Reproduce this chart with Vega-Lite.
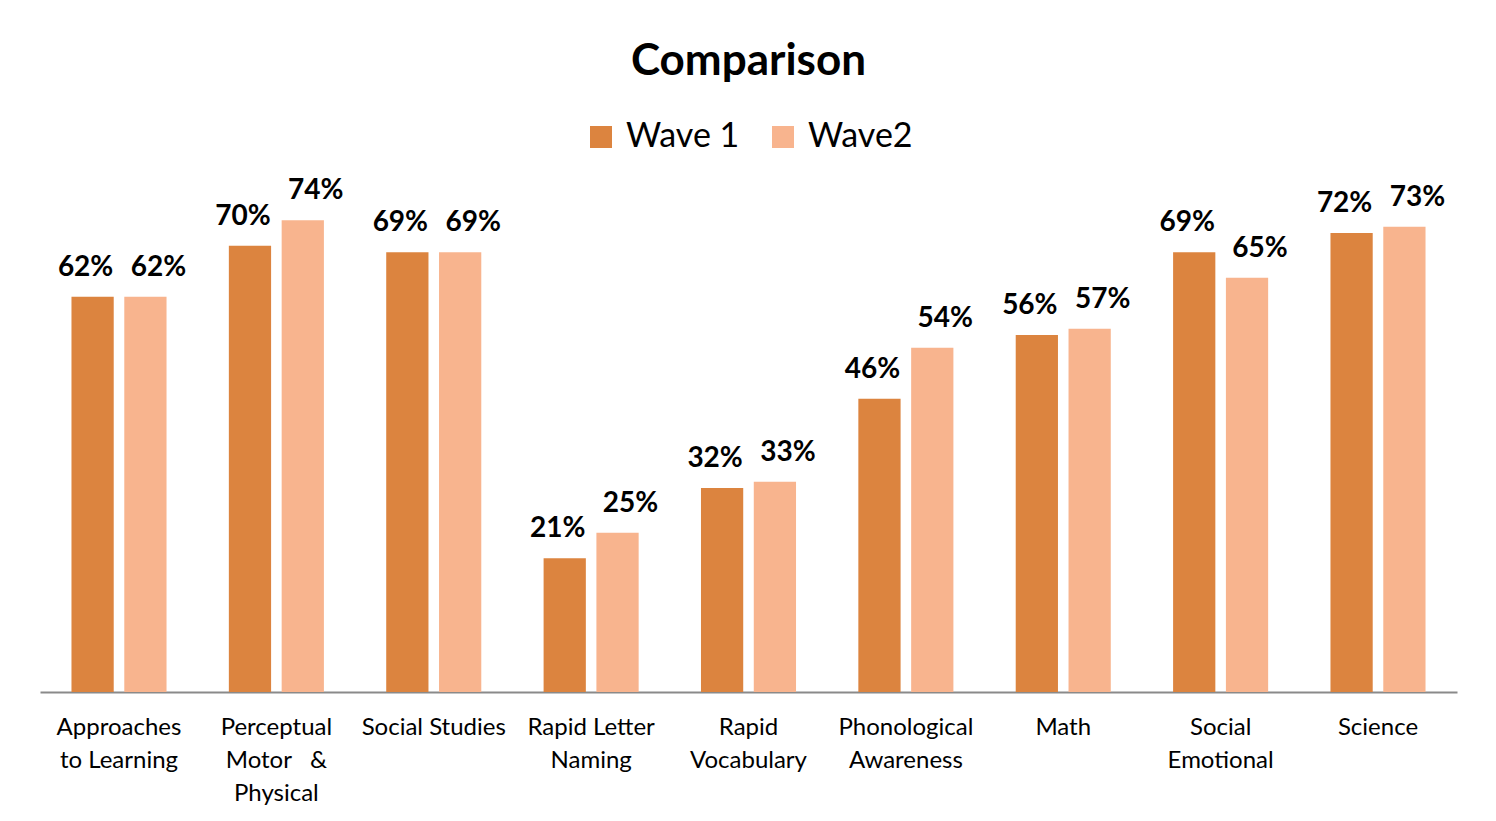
{
  "$schema": "https://vega.github.io/schema/vega-lite/v6.json",
  "width": 1417,
  "height": 510,
  "autosize": {"type": "none"},
  "padding": {"left": 40, "top": 182, "right": 39, "bottom": 129},
  "background": "white",
  "title": {
    "text": "Comparison",
    "font": "Lato",
    "fontSize": 44,
    "fontWeight": "bold",
    "color": "#000000",
    "anchor": "middle",
    "offset": 36
  },
  "config": {
    "view": {"stroke": null},
    "legend": {"layout": {"top": {"anchor": "middle"}}}
  },
  "data": {
    "values": [
      {"category": "Approaches|to Learning", "wave": "Wave 1", "value": 0.62},
      {"category": "Approaches|to Learning", "wave": "Wave2", "value": 0.62},
      {"category": "Perceptual|Motor\u00a0\u00a0 &|Physical", "wave": "Wave 1", "value": 0.70},
      {"category": "Perceptual|Motor\u00a0\u00a0 &|Physical", "wave": "Wave2", "value": 0.74},
      {"category": "Social Studies", "wave": "Wave 1", "value": 0.69},
      {"category": "Social Studies", "wave": "Wave2", "value": 0.69},
      {"category": "Rapid Letter|Naming", "wave": "Wave 1", "value": 0.21},
      {"category": "Rapid Letter|Naming", "wave": "Wave2", "value": 0.25},
      {"category": "Rapid|Vocabulary", "wave": "Wave 1", "value": 0.32},
      {"category": "Rapid|Vocabulary", "wave": "Wave2", "value": 0.33},
      {"category": "Phonological|Awareness", "wave": "Wave 1", "value": 0.46},
      {"category": "Phonological|Awareness", "wave": "Wave2", "value": 0.54},
      {"category": "Math", "wave": "Wave 1", "value": 0.56},
      {"category": "Math", "wave": "Wave2", "value": 0.57},
      {"category": "Social|Emotional", "wave": "Wave 1", "value": 0.69},
      {"category": "Social|Emotional", "wave": "Wave2", "value": 0.65},
      {"category": "Science", "wave": "Wave 1", "value": 0.72},
      {"category": "Science", "wave": "Wave2", "value": 0.73}
    ]
  },
  "encoding": {
    "x": {
      "field": "category",
      "type": "nominal",
      "sort": null,
      "scale": {"paddingInner": 0.396, "paddingOuter": 0.2},
      "axis": {
        "title": null,
        "labelExpr": "split(datum.value, '|')",
        "labelAngle": 0,
        "labelFont": "Lato",
        "labelFontSize": 24,
        "labelColor": "#000000",
        "labelLineHeight": 33,
        "labelPadding": 23,
        "labelBaseline": "top",
        "ticks": false,
        "domainColor": "#8a8a8a",
        "domainWidth": 2,
        "grid": false,
        "labelLimit": 0
      }
    },
    "xOffset": {
      "field": "wave",
      "type": "nominal",
      "scale": {"paddingInner": 0.2}
    },
    "y": {
      "field": "value",
      "type": "quantitative",
      "scale": {"domain": [0, 0.8], "nice": false},
      "axis": null
    }
  },
  "layer": [
    {
      "mark": {"type": "bar"},
      "encoding": {
        "color": {
          "field": "wave",
          "type": "nominal",
          "scale": {"domain": ["Wave 1", "Wave2"], "range": ["#DC843F", "#F8B48E"]},
          "legend": {
            "title": null,
            "orient": "top",
            "direction": "horizontal",
            "symbolType": "square",
            "symbolSize": 484,
            "symbolStrokeWidth": 0,
            "labelFont": "Lato",
            "labelFontSize": 34,
            "labelColor": "#000000",
            "labelOffset": 8,
            "columnPadding": 26,
            "offset": 28
          }
        }
      }
    },
    {
      "transform": [{"filter": "datum.wave == 'Wave 1'"}],
      "mark": {
        "type": "text",
        "baseline": "bottom",
        "dy": -15,
        "dx": -7,
        "font": "Lato",
        "fontSize": 28,
        "fontWeight": "bold",
        "color": "#000000"
      },
      "encoding": {
        "text": {"field": "value", "type": "quantitative", "format": ".0%"}
      }
    },
    {
      "transform": [{"filter": "datum.wave == 'Wave2'"}],
      "mark": {
        "type": "text",
        "baseline": "bottom",
        "dy": -15,
        "dx": 13,
        "font": "Lato",
        "fontSize": 28,
        "fontWeight": "bold",
        "color": "#000000"
      },
      "encoding": {
        "text": {"field": "value", "type": "quantitative", "format": ".0%"}
      }
    }
  ]
}
